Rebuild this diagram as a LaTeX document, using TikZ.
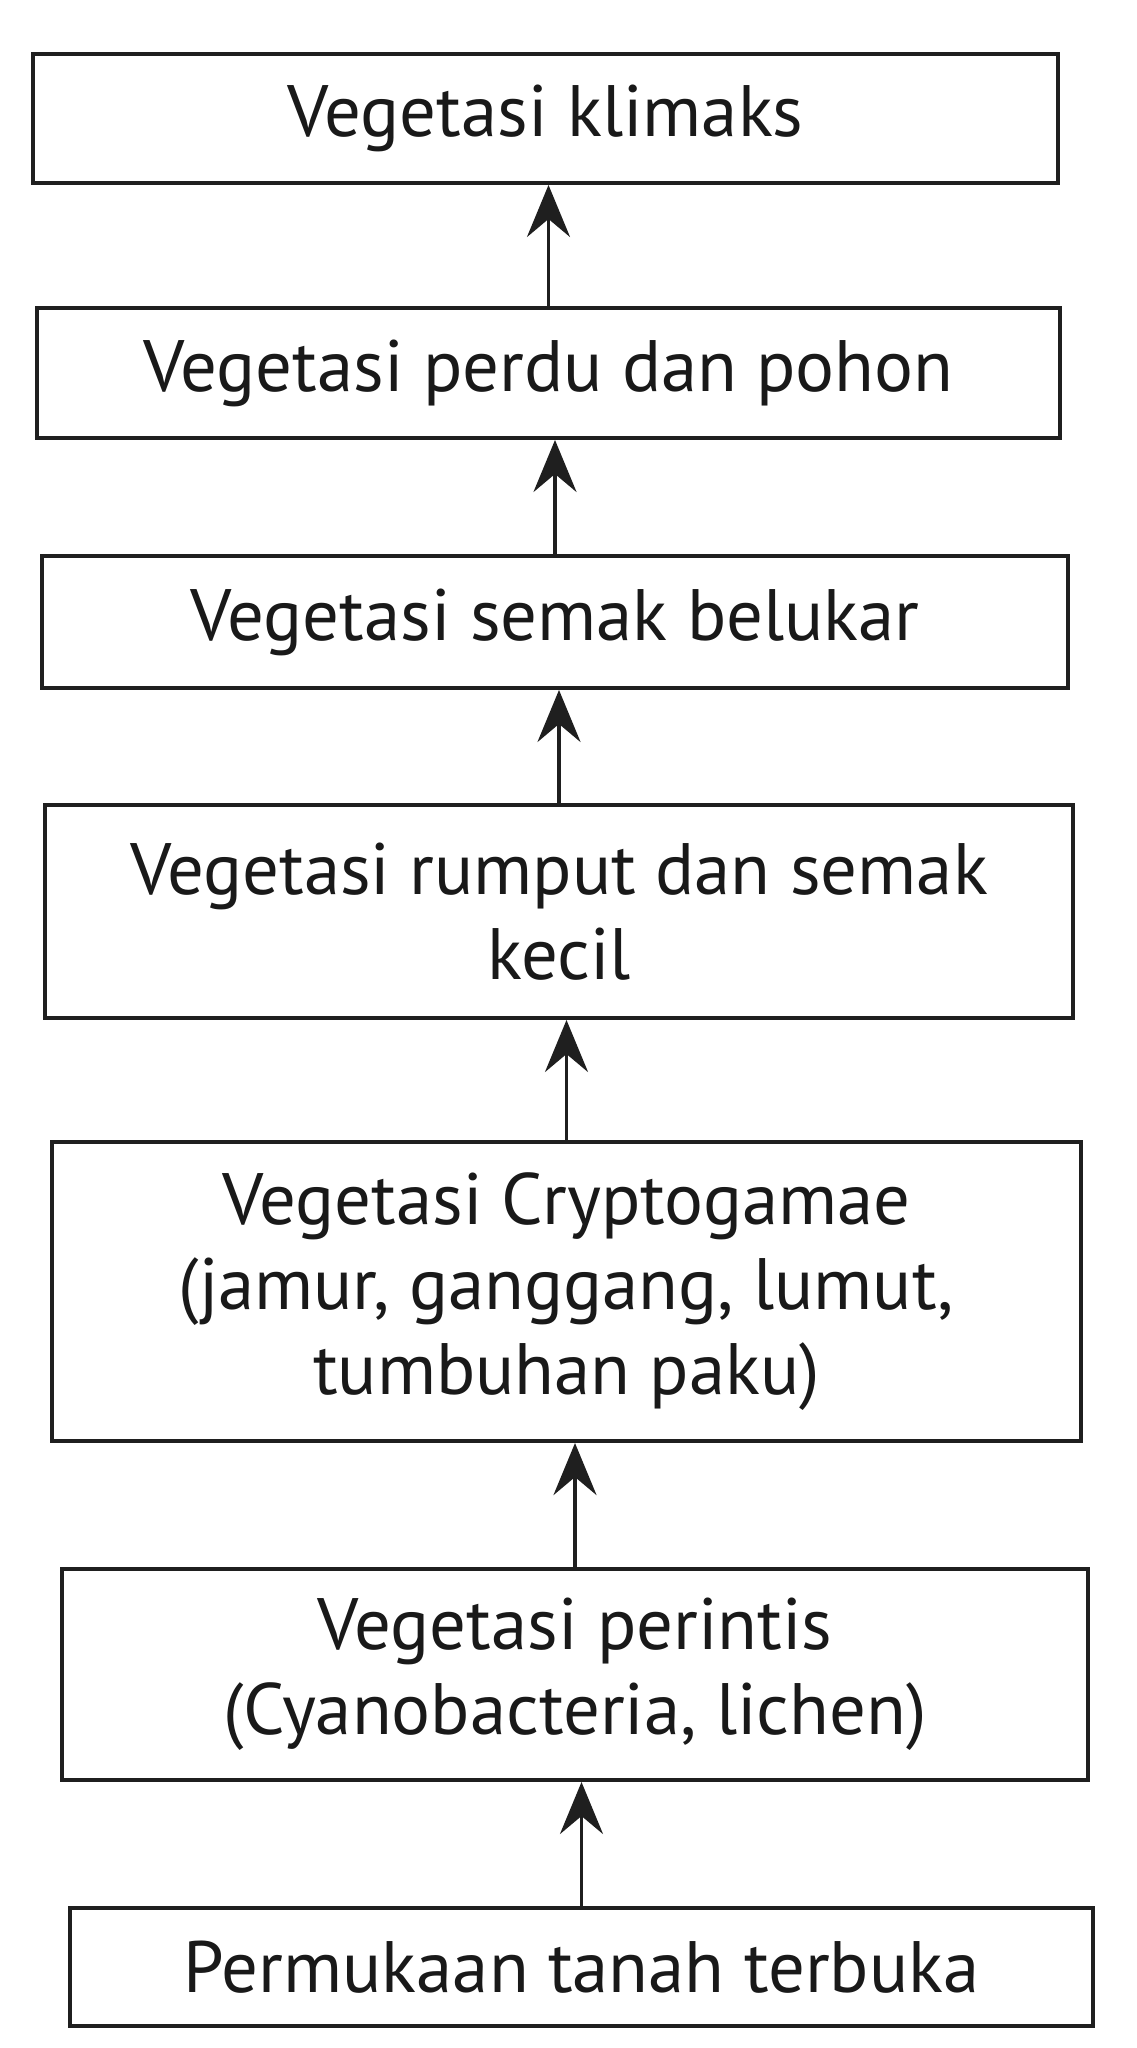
\documentclass[tikz,border=0pt]{standalone}
\usepackage{fontspec}
\setmainfont{PT Sans}
\usetikzlibrary{arrows.meta}
\begin{document}
\begin{tikzpicture}[x=0.01cm,y=-0.01cm,
  box/.style={draw=black!88, line width=1.1pt, rectangle, inner sep=0pt,
    align=center, font=\fontsize{20.7}{24.2}\selectfont, text=black!90},
  arr/.style={draw=black!88, line width=0.9pt, -{Stealth[length=5.2mm,width=4.3mm,inset=1.8mm]}}]
\useasboundingbox[fill=white] (0,0) rectangle (1136,2048);
\node[box, minimum width=10.25cm, minimum height=1.29cm] (b1) at (545.5,118.5) {Vegetasi klimaks};
\node[box, minimum width=10.23cm, minimum height=1.30cm] (b2) at (548.5,373) {Vegetasi perdu dan pohon};
\node[box, minimum width=10.26cm, minimum height=1.32cm] (b3) at (555,622) {Vegetasi semak belukar};
\node[box, minimum width=10.28cm, minimum height=2.13cm] (b4) at (559,911.5) {Vegetasi rumput dan semak\\kecil};
\node[box, minimum width=10.29cm, minimum height=2.99cm] (b5) at (566.5,1291.5) {Vegetasi Cryptogamae\\(jamur, ganggang, lumut,\\tumbuhan paku)};
\node[box, minimum width=10.26cm, minimum height=2.11cm] (b6) at (575,1674.5) {Vegetasi perintis\\(Cyanobacteria, lichen)};
\node[box, minimum width=10.23cm, minimum height=1.18cm] (b7) at (581.5,1967) {Permukaan tanah terbuka};
\draw[arr] (b2.north) -- (b2.north |- b1.south);
\draw[arr] (b3.north) -- (b3.north |- b2.south);
\draw[arr] (b4.north) -- (b4.north |- b3.south);
\draw[arr] (b5.north) -- (b5.north |- b4.south);
\draw[arr] (b6.north) -- (b6.north |- b5.south);
\draw[arr] (b7.north) -- (b7.north |- b6.south);
\end{tikzpicture}
\end{document}
